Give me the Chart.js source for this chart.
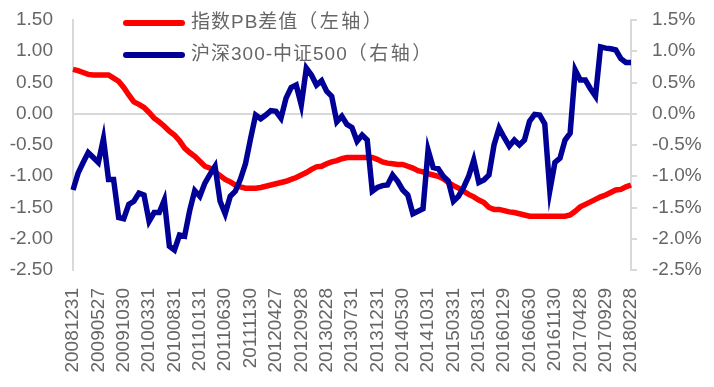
<!DOCTYPE html>
<html><head><meta charset="utf-8">
<script src="https://cdn.jsdelivr.net/npm/chart.js@4/dist/chart.umd.min.js"></script>
<style>html,body{margin:0;padding:0;background:#fff;}#wrap{width:714px;height:387px;}</style>
</head><body><div id="wrap"><canvas id="c" width="714" height="387"></canvas></div>
<script>
const categories = [
"20081231",
"20090123","20090227","20090331","20090430","20090527","20090630","20090731","20090831","20090930","20091030","20091130","20091231",
"20100129","20100226","20100331","20100430","20100531","20100630","20100730","20100831","20100930","20101029","20101130","20101231",
"20110131","20110228","20110331","20110429","20110531","20110630","20110729","20110831","20110930","20111031","20111130","20111230",
"20120131","20120229","20120330","20120427","20120531","20120629","20120731","20120831","20120928","20121031","20121130","20121231",
"20130131","20130228","20130329","20130426","20130531","20130628","20130731","20130830","20130930","20131031","20131129","20131231",
"20140130","20140228","20140331","20140430","20140530","20140630","20140731","20140829","20140930","20141031","20141128","20141231",
"20150130","20150227","20150331","20150430","20150529","20150630","20150731","20150831","20150930","20151030","20151130","20151231",
"20160129","20160229","20160331","20160429","20160531","20160630","20160729","20160831","20160930","20161031","20161130","20161230",
"20170126","20170228","20170331","20170428","20170531","20170630","20170731","20170831","20170929","20171031","20171130","20171229",
"20180131","20180228"];

const seriesNames = ["指数PB差值（左轴）", "沪深300-中证500（右轴）"];

const pbDiff = [
0.71,0.69,0.66,0.63,0.62,0.62,0.62,0.62,0.57,0.52,
0.42,0.30,0.19,0.15,0.10,0.02,-0.07,-0.13,-0.20,-0.28,
-0.34,-0.43,-0.55,-0.62,-0.68,-0.76,-0.84,-0.87,-0.93,-0.99,
-1.05,-1.09,-1.14,-1.17,-1.19,-1.19,-1.19,-1.18,-1.16,-1.14,
-1.12,-1.10,-1.08,-1.05,-1.02,-0.98,-0.94,-0.89,-0.85,-0.84,
-0.80,-0.77,-0.75,-0.72,-0.70,-0.70,-0.70,-0.70,-0.70,-0.70,
-0.73,-0.77,-0.79,-0.80,-0.81,-0.81,-0.84,-0.87,-0.91,-0.93,
-0.96,-0.98,-1.00,-1.04,-1.10,-1.15,-1.19,-1.24,-1.29,-1.33,
-1.38,-1.42,-1.50,-1.53,-1.53,-1.55,-1.57,-1.58,-1.60,-1.62,
-1.64,-1.64,-1.64,-1.64,-1.64,-1.64,-1.64,-1.64,-1.62,-1.56,
-1.49,-1.45,-1.41,-1.37,-1.33,-1.30,-1.26,-1.22,-1.21,-1.17,
-1.14];

const spread = [
-1.22,-0.95,-0.78,-0.62,-0.70,-0.78,-0.40,-1.05,-1.05,-1.66,
-1.68,-1.45,-1.40,-1.27,-1.30,-1.72,-1.58,-1.58,-1.38,-2.12,
-2.18,-1.94,-1.96,-1.55,-1.23,-1.32,-1.11,-0.97,-0.84,-1.40,
-1.60,-1.32,-1.24,-1.05,-0.80,-0.40,-0.02,-0.08,-0.02,0.05,
0.04,-0.07,0.25,0.42,0.46,0.14,0.73,0.62,0.46,0.53,
0.36,0.28,-0.13,-0.04,-0.17,-0.22,-0.44,-0.34,-0.42,-1.24,
-1.18,-1.15,-1.14,-0.98,-1.08,-1.22,-1.30,-1.60,-1.56,-1.52,
-0.58,-0.86,-0.88,-1.00,-1.08,-1.40,-1.32,-1.18,-1.00,-0.74,
-1.10,-1.06,-0.98,-0.50,-0.23,-0.38,-0.52,-0.42,-0.50,-0.42,
-0.12,-0.01,-0.02,-0.16,-1.23,-0.78,-0.71,-0.42,-0.31,0.70,
0.54,0.54,0.40,0.28,1.07,1.05,1.04,1.02,0.88,0.82,
0.82];

const leftTicks = {min:-2.5, max:1.5, step:0.5};
const rightTicks = {min:-2.5, max:1.5, step:0.5};

const RED = '#FF0000', BLUE = '#000096', GRAY = '#666666', LINE = '#D9D9D9';
const FONT = '"Liberation Sans", Arial, "Noto Sans CJK SC", sans-serif';

function drawSpaced(ctx, text, x, y, spacing) {
  for (const ch of text) {
    ctx.fillText(ch, x, y);
    x += ctx.measureText(ch).width + spacing;
  }
  return x;
}

const legendPlugin = {
  id: 'inlineLegend',
  afterDraw(chart) {
    const ctx = chart.ctx;
    const ca = chart.chartArea;
    const items = chart.data.datasets.map(d => ({label: d.label, color: d.borderColor}));
    const x0 = ca.left + 53, lineLen = 56, rowY = [ca.top + 3, ca.top + 35];
    ctx.save();
    items.forEach((it, i) => {
      const y = rowY[i];
      ctx.strokeStyle = it.color; ctx.lineWidth = 6; ctx.lineCap = 'round';
      ctx.beginPath(); ctx.moveTo(x0, y); ctx.lineTo(x0 + lineLen, y); ctx.stroke();
      ctx.fillStyle = GRAY; ctx.font = '19px ' + FONT; ctx.textBaseline = 'middle'; ctx.textAlign = 'left';
      const k = it.label.indexOf('（');
      let x = x0 + lineLen + 9;
      x = drawSpaced(ctx, it.label.slice(0, k), x, y, 1);
      drawSpaced(ctx, it.label.slice(k), x, y, 2.5);
    });
    ctx.restore();
  }
};

function fixV(w) {
  return s => { s.width = w; s.paddingTop = 0; s.paddingBottom = 0; };
}

new Chart(document.getElementById('c'), {
  type: 'line',
  data: {
    labels: categories,
    datasets: [
      {label: seriesNames[0], data: pbDiff, yAxisID: 'yL', borderColor: RED, backgroundColor: RED, borderWidth: 5.5, pointRadius: 0, tension: 0, order: 2},
      {label: seriesNames[1], data: spread, yAxisID: 'yR', borderColor: BLUE, backgroundColor: BLUE, borderWidth: 5.5, pointRadius: 0, tension: 0, order: 1}
    ]
  },
  options: {
    responsive: false,
    animation: false,
    devicePixelRatio: 1,
    layout: {padding: {left: 0, right: 0, top: 20, bottom: 0}},
    plugins: {legend: {display: false}, tooltip: {enabled: false}},
    scales: {
      x: {
        grid: {display: false, drawTicks: false},
        border: {display: false},
        afterFit: s => { s.height = 117; s.paddingLeft = 0; s.paddingRight = 0; },
        ticks: {
          autoSkip: false, maxRotation: 90, minRotation: 90, padding: 18,
          color: GRAY, font: {size: 19, family: FONT},
          callback: function(v, i) { return i % 5 === 0 ? categories[i] : null; }
        }
      },
      yL: {
        position: 'left', min: leftTicks.min, max: leftTicks.max,
        afterFit: fixV(73),
        ticks: {stepSize: leftTicks.step, color: GRAY, font: {size: 19, family: FONT}, padding: 20,
          callback: v => Number(v).toFixed(2)},
        grid: {drawTicks: false, lineWidth: 2, color: c => (Math.abs(c.tick.value) < 1e-9 ? LINE : 'rgba(0,0,0,0)')},
        border: {display: true, color: LINE, width: 2}
      },
      yR: {
        position: 'right', min: rightTicks.min, max: rightTicks.max,
        afterFit: fixV(83),
        ticks: {stepSize: rightTicks.step, color: GRAY, font: {size: 19, family: FONT}, padding: 15,
          callback: v => Number(v).toFixed(1) + '%'},
        grid: {drawOnChartArea: false, drawTicks: true, tickLength: 6, color: LINE, lineWidth: 2},
        border: {display: true, color: LINE, width: 2}
      }
    }
  },
  plugins: [legendPlugin]
});
</script>
</body></html>
